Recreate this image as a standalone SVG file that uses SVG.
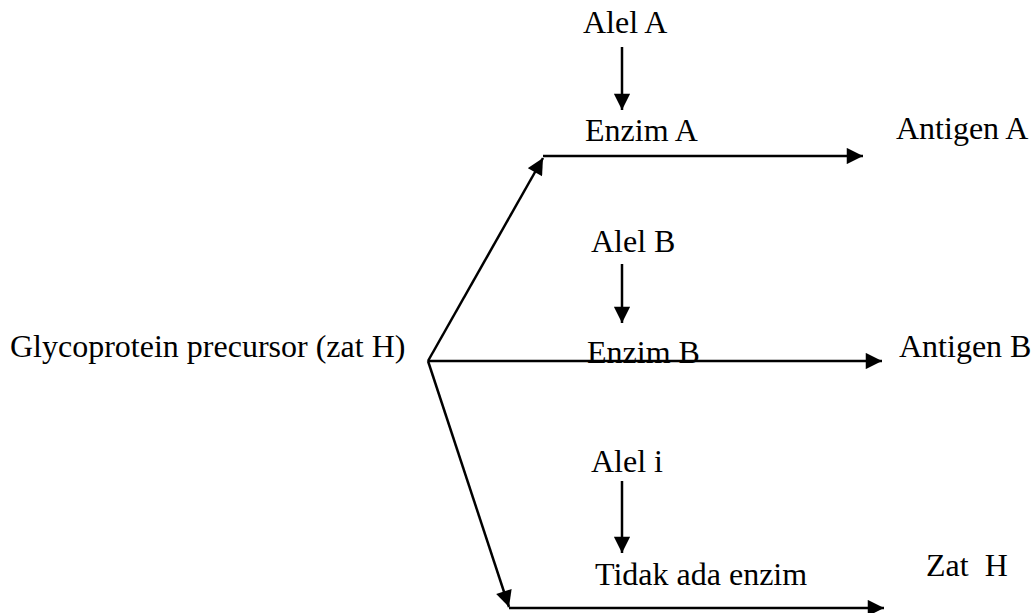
<svg xmlns="http://www.w3.org/2000/svg" width="1033" height="613" viewBox="0 0 1033 613">
  <style>
    text { font-family: "Liberation Serif", "Times New Roman", serif; font-size: 32px; fill: #000; }
    .line { stroke: #000; stroke-width: 2.5; fill: none; }
  </style>
  <defs>
    <marker id="tip" viewBox="0 0 10 10" refX="10" refY="5" markerWidth="7" markerHeight="6.5" orient="auto">
      <path d="M0,0 L10,5 L0,10 z" fill="#000"/>
    </marker>
  </defs>

  <g id="connectors">
    <!-- branch to Enzim A -->
    <line class="line" x1="428" y1="361" x2="543" y2="158" marker-end="url(#tip)"/>
    <line class="line" x1="543" y1="156" x2="863" y2="156" marker-end="url(#tip)"/>
    <!-- branch to Enzim B -->
    <line class="line" x1="428" y1="361" x2="882" y2="361" marker-end="url(#tip)"/>
    <!-- branch to no enzyme -->
    <line class="line" x1="428" y1="361" x2="509" y2="607" marker-end="url(#tip)"/>
    <line class="line" x1="509" y1="608" x2="884" y2="608" marker-end="url(#tip)"/>
    <!-- allele arrows -->
    <line class="line" x1="622" y1="47" x2="622" y2="110" marker-end="url(#tip)"/>
    <line class="line" x1="622" y1="264" x2="622" y2="323" marker-end="url(#tip)"/>
    <line class="line" x1="622" y1="481" x2="622" y2="553" marker-end="url(#tip)"/>
  </g>

  <g id="precursor"><text x="10" y="357">Glycoprotein precursor (zat H)</text></g>
  <g id="alel-a"><text x="583" y="33">Alel A</text></g>
  <g id="enzim-a"><text x="585" y="141">Enzim A</text></g>
  <g id="antigen-a"><text x="896" y="139">Antigen A</text></g>
  <g id="alel-b"><text x="591" y="252">Alel B</text></g>
  <g id="enzim-b"><text x="587" y="363">Enzim B</text></g>
  <g id="antigen-b"><text x="899" y="357">Antigen B</text></g>
  <g id="alel-i"><text x="591" y="472">Alel i</text></g>
  <g id="tidak-ada-enzim"><text x="595" y="585">Tidak ada enzim</text></g>
  <g id="zat-h"><text x="926" y="576" xml:space="preserve">Zat  H</text></g>
</svg>
